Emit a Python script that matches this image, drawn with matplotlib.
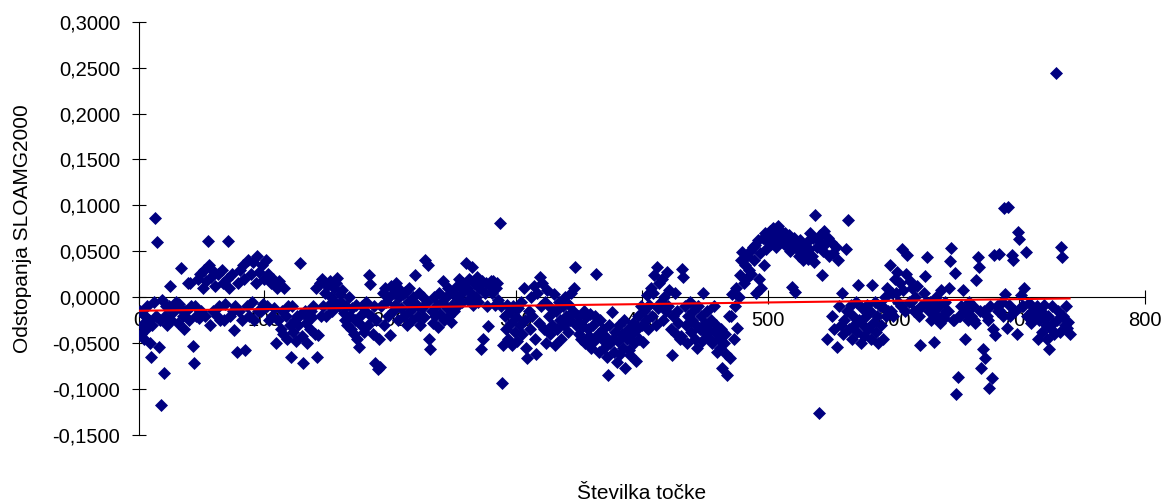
import numpy as np
import matplotlib
matplotlib.use("Agg")
import matplotlib.pyplot as plt
from matplotlib.ticker import FixedLocator, FuncFormatter

# Deviation of each numbered point, in thousandths of a unit (points 1..740)
deviation_milli = [
    -15, -40, -30, -45, -20, -35, -10, -25, -50, -65,
    -30, -5, 86, -20, 60, -54, -25, -117, -3, -83,
    -20, -10, -30, -10, 12, -25, -15, -15, -7, -5,
    -28, -7, -12, 32, -20, -35, -15, -15, 15, -25,
    15, -10, -53, -72, -10, -20, 20, -23, 25, -15,
    10, 30, -20, 18, 61, 35, -30, 22, -15, 28,
    12, -20, 25, -10, -25, 30, 15, -25, -7, 20,
    61, 10, -20, 25, -15, -36, -10, -60, 15, -15,
    30, -25, 35, 20, -58, -10, 40, -20, 25, -5,
    38, -25, 15, 45, -15, 28, -15, 35, -7, 20,
    40, -10, 25, -25, 15, -20, 20, -12, -50, 10,
    -25, 18, -35, -15, -40, 10, -20, -45, -10, -30,
    -65, -10, -38, -25, -48, -20, -30, 37, -18, -42,
    -72, -15, -28, -50, -23, -35, -15, -22, -10, -40,
    10, -65, -41, 15, -20, 20, -10, 5, -20, 12,
    -8, 18, 0, -15, 10, -5, 15, 21, -10, 3,
    -5, 8, -17, -25, -10, -30, 0, -20, -35, -12,
    -40, -25, -8, -45, -54, -20, -30, -10, -38, -15,
    -5, -30, 24, 14, -20, -40, -10, -72, -25, -78,
    -45, -76, -10, 5, -30, 10, -5, -20, 0, -41,
    12, -15, 5, -8, 15, -25, 0, 8, -12, 3,
    -20, 6, -30, -5, 10, -15, -25, 0, -10, 24,
    -8, -20, 5, -30, -12, 0, -22, 40, -5, 35,
    -45, -56, -15, -28, 0, -20, -8, -32, 5, -18,
    -5, 18, -25, 0, -12, 10, -20, -27, -8, 5,
    -15, 0, 12, -8, 20, 3, -5, 15, 8, 37,
    10, -3, 20, 5, 33, -8, 15, 0, 22, -5,
    10, -56, 18, -45, 5, 15, -10, -31, 12, 18,
    5, 18, -8, 10, 15, -3, 81, -10, -93, -52,
    -20, -35, -8, -45, -15, -28, -52, -10, -38, -22,
    -48, -12, -30, -5, -40, 10, -25, -55, -66, -15,
    -35, 0, -20, 12, -45, -62, 5, -28, 22, -10,
    15, -35, -5, -50, 8, -20, -40, -12, -30, 3,
    -52, -15, -35, -5, -25, -45, -10, -30, 0, -20,
    -38, -8, -25, 5, -15, 10, 33, -30, -20, -40,
    -28, -45, -31, -15, -50, -22, -35, -42, -18, -55,
    -30, -48, -20, 25, -40, -60, -25, -45, -35, -55,
    -42, -65, -85, -30, -50, -16, -45, -60, -38, -70,
    -48, -30, -62, -40, -55, -25, -77, -45, -35, -58,
    -63, -40, -28, -50, -69, -35, -20, -45, -10, -30,
    -49, -15, -25, 2, -35, -8, 10, -20, 5, 24,
    -30, 33, -12, 15, -5, 20, -25, 0, -15, 28,
    -10, 8, -35, -63, -20, 5, -40, -15, -28, -45,
    -42, 31, 22, -10, -30, -50, -20, -5, -38, -25,
    -15, -45, -30, -55, -10, -35, -20, -48, 5, -28,
    -40, -15, -35, -45, -25, -50, -10, -38, -30, -60,
    -45, -55, -35, -77, -50, -40, -62, -85, -20, -66,
    -20, 4, -45, -10, 10, -34, 0, 24, 40, 49,
    15, 35, 20, 45, 30, 50, 25, 55, 40, 57,
    5, 62, 20, 48, 10, 65, 35, 70, 52, 60,
    65, 72, 58, 75, 62, 70, 55, 78, 66, 60,
    72, 64, 58, 70, 62, 55, 68, 50, 11, 60,
    65, 6, 52, 58, 45, 62, 50, 40, 55, 48,
    60, 42, 52, 70, 45, 65, 38, 89, 55, 62,
    -126, 68, 24, 50, 72, 58, -45, 65, 45, 60,
    -20, 48, -35, 55, -54, 40, -10, -30, 5, -40,
    -25, 53, -15, 84, -35, -8, -45, -20, -30, -5,
    -38, 13, -25, -50, -12, -30, -42, -20, -8, -35,
    -15, -45, 13, -28, -5, -38, -20, -50, -10, -30,
    -10, -45, 0, -20, 10, -15, 35, -15, 5, -20,
    20, 5, 28, -5, 15, -10, 53, 8, -15, 25,
    46, -5, 18, -5, 10, -15, 0, -15, 12, -20,
    -52, -10, -10, 5, 23, -5, 44, -15, -5, -25,
    -15, -49, -10, 0, -20, -10, -28, 8, -20, -23,
    -5, -15, -15, 10, 39, 54, -25, -25, 26, -105,
    -87, -20, -20, -10, 8, -15, -45, -15, -25, -5,
    -20, -20, -10, -25, -28, 19, 44, 33, -15, -77,
    -56, -15, -66, -20, -25, -99, -10, -88, -35, 46,
    -41, -10, -15, 47, -15, -5, -20, 97, 3, -33,
    98, -8, -20, 46, 40, -15, -15, -40, 71, 63,
    2, -10, -10, 10, 49, -20, -20, -6, -28, -15,
    -25, -20, -15, -10, -45, -25, -15, -38, -22, -8,
    -30, -45, -20, -56, -35, -10, -28, -40, 244, -25,
    -15, -38, 55, 44, -20, -30, -10, -33, -27, -40,
]

x_ticks = [0, 100, 200, 300, 400, 500, 600, 700, 800]
y_ticks = [-0.15, -0.10, -0.05, 0.0, 0.05, 0.10, 0.15, 0.20, 0.25, 0.30]

deviation = np.array(deviation_milli) / 1000.0
point_no = np.arange(1, len(deviation) + 1)

plt.rcParams['font.family'] = ['Liberation Sans', 'DejaVu Sans']

fig = plt.figure(figsize=(11.67, 5.03), dpi=100)
ax = fig.add_axes([0.1187, 0.1352, 0.8625, 0.8217])

ax.scatter(point_no, deviation, marker='D', s=44, color='#000080',
           linewidths=0, zorder=3)

# Linear trend through all points
coef = np.polyfit(point_no, deviation, 1)
trend_x = np.array([point_no.min(), point_no.max()])
ax.plot(trend_x, np.polyval(coef, trend_x), color='red', lw=1.5, zorder=4)

ax.set_xlim(0, 800)
ax.set_ylim(-0.15, 0.30)

for side in ('top', 'right'):
    ax.spines[side].set_visible(False)
ax.spines['bottom'].set_position(('data', 0))
for side in ('left', 'bottom'):
    ax.spines[side].set_color('black')
    ax.spines[side].set_linewidth(0.8)

ax.xaxis.set_major_locator(FixedLocator(x_ticks))
ax.yaxis.set_major_locator(FixedLocator(y_ticks))


def comma_fmt(v, pos):
    v = round(v, 4)
    if v == 0:
        v = 0.0
    return f"{v:.4f}".replace('.', ',')


ax.yaxis.set_major_formatter(FuncFormatter(comma_fmt))
ax.xaxis.set_major_formatter(FuncFormatter(lambda v, p: f"{int(round(v))}"))

ax.tick_params(axis='both', direction='inout', length=9.6, width=0.8,
               labelsize=14.5, colors='black')
ax.tick_params(axis='y', pad=8.4)
ax.tick_params(axis='x', pad=5.3)

ax.set_ylabel('Odstopanja SLOAMG2000', fontsize=15)
ax.yaxis.label.set_va('center')
ax.yaxis.set_label_coords(-0.1148, 0.5)

ax.set_xlabel('Številka točke', fontsize=15)
ax.xaxis.label.set_va('baseline')
ax.xaxis.set_label_coords(0.5, -0.1556)

fig.savefig('out.png', dpi=100)
